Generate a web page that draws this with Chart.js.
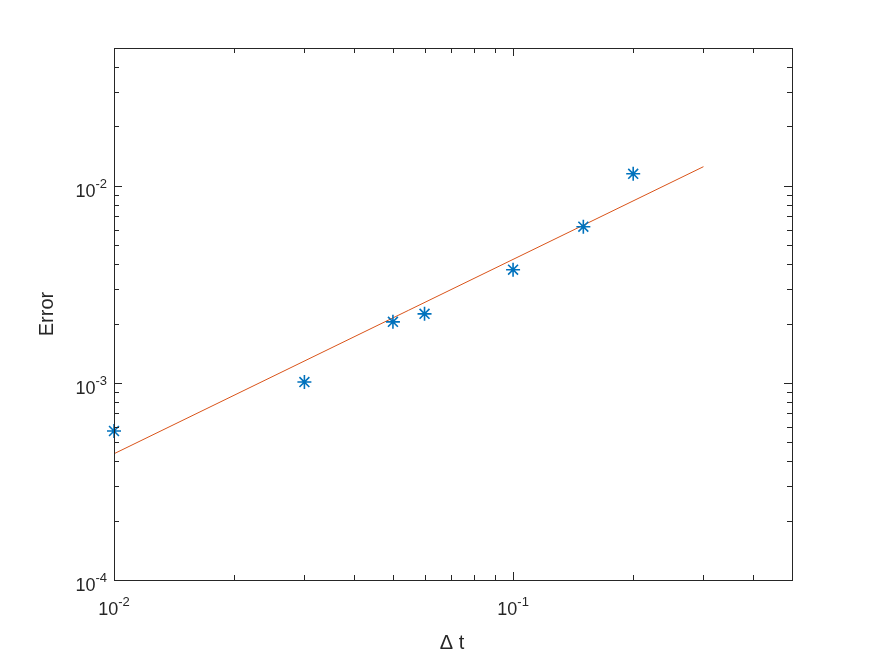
<!DOCTYPE html>
<html>
<head>
<meta charset="utf-8">
<script src="https://cdn.jsdelivr.net/npm/chart.js@4/dist/chart.umd.min.js"></script>
<style>
  html, body { margin: 0; padding: 0; background: #fff; }
  #wrap { width: 875px; height: 657px; position: relative; }
</style>
</head>
<body>
<div id="wrap"><canvas id="c"></canvas></div>
<script>
// measured points
const dt = [0.01, 0.03, 0.05, 0.06, 0.1, 0.15, 0.2];
const err = [5.7e-4, 1.01e-3, 2.04e-3, 2.24e-3, 3.75e-3, 6.2e-3, 1.15e-2];
// reference line (end points)
const fitX = [0.01, 0.3];
const fitY = [4.37e-4, 1.25e-2];

const xMin = 0.01, xMax = 0.5;
const yMin = 1e-4, yMax = 0.05;
const xDecades = [-2, -1];
const yDecades = [-4, -3, -2];

const axisColor = '#262626';
const font = '"Liberation Sans", Arial, Helvetica, sans-serif';

const boxPlugin = {
  id: 'matlabBox',
  afterDraw(chart) {
    const ctx = chart.ctx;
    const a = chart.chartArea;
    const xs = chart.scales.x, ys = chart.scales.y;
    ctx.save();
    ctx.strokeStyle = axisColor;
    ctx.lineWidth = 1;
    ctx.strokeRect(Math.round(a.left) + 0.5, Math.round(a.top) + 0.5,
      Math.round(a.right - a.left), Math.round(a.bottom - a.top));

    // ticks on all sides, pointing in
    ctx.beginPath();
    for (let d = -3; d <= 0; d++) {
      for (let m = 1; m <= 9; m++) {
        const v = m * Math.pow(10, d);
        if (v < xMin - 1e-12 || v > xMax + 1e-12) continue;
        const px = Math.round(xs.getPixelForValue(v)) + 0.5;
        const len = m === 1 ? 8 : 5;
        ctx.moveTo(px, a.bottom); ctx.lineTo(px, a.bottom - len);
        ctx.moveTo(px, a.top); ctx.lineTo(px, a.top + len);
      }
    }
    for (let d = -5; d <= -1; d++) {
      for (let m = 1; m <= 9; m++) {
        const v = m * Math.pow(10, d);
        if (v < yMin - 1e-12 || v > yMax + 1e-12) continue;
        const py = Math.round(ys.getPixelForValue(v)) + 0.5;
        const len = m === 1 ? 8 : 5;
        ctx.moveTo(a.left, py); ctx.lineTo(a.left + len, py);
        ctx.moveTo(a.right, py); ctx.lineTo(a.right - len, py);
      }
    }
    ctx.stroke();

    // tick labels 10^n
    ctx.fillStyle = axisColor;
    ctx.textBaseline = 'alphabetic';
    const base = '18px ' + font, sup = '13px ' + font;
    function label(n, x, y, align) {
      ctx.font = base;
      const w1 = ctx.measureText('10').width;
      ctx.font = sup;
      const e = String(n);
      const w2 = ctx.measureText(e).width;
      const w = w1 + w2;
      let x0 = align === 'right' ? x - w : x - w / 2;
      ctx.font = base;
      ctx.fillText('10', x0, y);
      ctx.font = sup;
      ctx.fillText(e, x0 + w1, y - 9);
    }
    ctx.textAlign = 'left';
    xDecades.forEach(n => label(n, xs.getPixelForValue(Math.pow(10, n)), a.bottom + 35, 'center'));
    yDecades.forEach(n => label(n, a.left - 7, ys.getPixelForValue(Math.pow(10, n)) + 11, 'right'));

    // axis titles
    ctx.font = '20px ' + font;
    ctx.textAlign = 'center';
    ctx.fillText('\u0394 t', (a.left + a.right) / 2 - 1, a.bottom + 69);
    ctx.save();
    ctx.translate(53, (a.top + a.bottom) / 2);
    ctx.rotate(-Math.PI / 2);
    ctx.fillText('Error', 0, 0);
    ctx.restore();
    ctx.restore();
  }
};

new Chart(document.getElementById('c'), {
  type: 'scatter',
  data: {
    datasets: [
      {
        label: 'error',
        data: dt.map((x, i) => ({ x: x, y: err[i] })),
        pointStyle: 'star',
        pointRadius: 7,
        pointBorderWidth: 1.6,
        borderColor: '#0072BD',
        backgroundColor: '#0072BD',
        showLine: false
      },
      {
        label: 'fit',
        data: fitX.map((x, i) => ({ x: x, y: fitY[i] })),
        showLine: true,
        borderColor: '#D95319',
        borderWidth: 1,
        pointRadius: 0
      }
    ]
  },
  options: {
    responsive: true,
    maintainAspectRatio: false,
    animation: false,
    clip: false,
    layout: { padding: { left: 114, right: 83, top: 48, bottom: 77 } },
    plugins: { legend: { display: false }, tooltip: { enabled: false } },
    scales: {
      x: { type: 'logarithmic', min: xMin, max: xMax, display: false },
      y: { type: 'logarithmic', min: yMin, max: yMax, display: false }
    }
  },
  plugins: [boxPlugin]
});
</script>
</body>
</html>
